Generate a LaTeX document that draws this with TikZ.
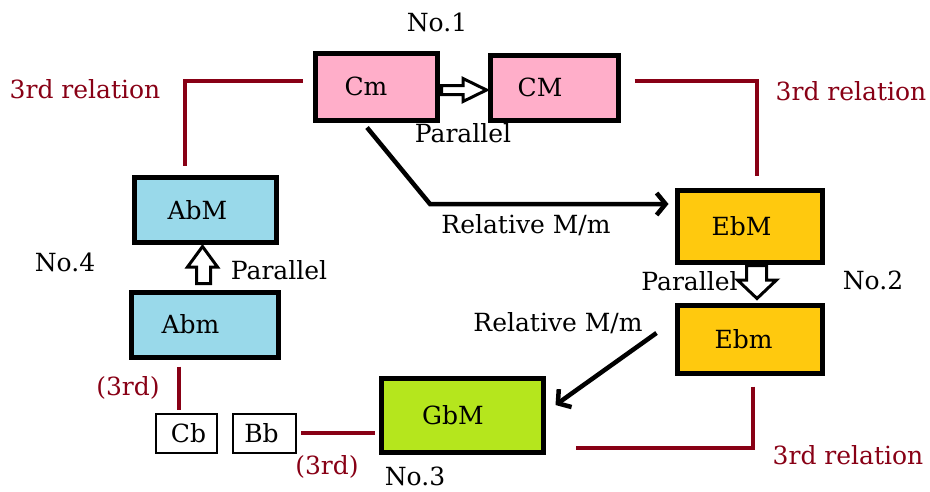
\documentclass[tikz,border=0pt]{standalone}
\usepackage{fontspec}
\setmainfont{DejaVu Serif}
\usetikzlibrary{arrows.meta}
\definecolor{pinkbox}{HTML}{FFAEC9}
\definecolor{bluebox}{HTML}{99D9EA}
\definecolor{goldbox}{HTML}{FFC90E}
\definecolor{limebox}{HTML}{B5E61D}
\definecolor{darkred}{HTML}{880015}
\begin{document}
\begin{tikzpicture}[x=1pt,y=-1pt,
  every node/.style={font=\fontsize{25}{29}\selectfont, inner sep=0pt},
  every label/.style={font=\fontsize{25}{29}\selectfont, inner sep=0pt},
  bigbox/.style={draw=black, line width=5pt, rectangle},
  smallbox/.style={draw=black, line width=2.5pt, rectangle, fill=white},
  rel/.style={draw=darkred, line width=4.5pt},
  relarrow/.style={draw=black, line width=4.5pt, -{Straight Barb[length=9pt,width=22pt]}},
  hollow/.style={draw=black, line width=3pt, fill=white, line join=miter},
  lbl/.style={text=black},
  redlbl/.style={text=darkred}]
\useasboundingbox (0,0) rectangle (930,491);

% boxes
\node[bigbox, fill=pinkbox, minimum width=122pt, minimum height=67pt, label={[xshift=-10pt]center:Cm}] (Cm) at (376,86.5) {};
\node[bigbox, fill=pinkbox, minimum width=128pt, minimum height=65pt, label={[xshift=-14pt]center:CM}] (CM) at (554,87.5) {};
\node[bigbox, fill=goldbox, minimum width=145pt, minimum height=72pt, label={[xshift=-8pt]center:EbM}] (EbM) at (749.5,226) {};
\node[bigbox, fill=goldbox, minimum width=145pt, minimum height=68pt, label={[xshift=-6pt]center:Ebm}] (Ebm) at (749.5,339) {};
\node[bigbox, fill=bluebox, minimum width=142pt, minimum height=65pt, label={[xshift=-8pt]center:AbM}] (AbM) at (205.5,210) {};
\node[bigbox, fill=bluebox, minimum width=147pt, minimum height=65pt, label={[xshift=-14pt]center:Abm}] (Abm) at (204.5,324.5) {};
\node[bigbox, fill=limebox, minimum width=162pt, minimum height=74pt, label={[xshift=-9pt]center:GbM}] (GbM) at (462,415) {};
\node[smallbox, minimum width=61pt, minimum height=39pt, label={[xshift=2pt]center:Cb}] (Cb) at (186.5,433.5) {};
\node[smallbox, minimum width=63pt, minimum height=39pt, label={[xshift=-3pt]center:Bb}] (Bb) at (264.5,433.5) {};

% labels
\node[lbl] (n1) at (437,22) {No.1};
\node[lbl] (n2) at (873,280) {No.2};
\node[lbl] (n3) at (415,476) {No.3};
\node[lbl] (n4) at (65,262) {No.4};
\node[redlbl] (r1) at (85,89) {3rd relation};
\node[redlbl] (r2) at (851,91) {3rd relation};
\node[redlbl] (r3) at (848,455) {3rd relation};
\node[redlbl] (t1) at (128,388) {(3rd)};
\node[redlbl] (t2) at (327,467) {(3rd)};
\node[lbl] (p1) at (463,133) {Parallel};
\node[lbl] (p2) at (279,270) {Parallel};
\node[lbl] (p3) at (689.5,281) {Parallel};
\node[lbl] (m1) at (526,225) {Relative M/m};
\node[lbl] (m2) at (558,323) {Relative M/m};

% 3rd relation connectors
\coordinate (a1) at ([xshift=-10pt,yshift=5.5pt]Cm.west);
\coordinate (a2) at ([xshift=-20.5pt,yshift=9.5pt]AbM.north);
\draw[rel] (a1) -| (a2);
\coordinate (b1) at ([xshift=14pt,yshift=6.5pt]CM.east);
\coordinate (b2) at ([xshift=7.5pt,yshift=12pt]EbM.north);
\draw[rel] (b1) -| (b2);
\coordinate (c1) at ([xshift=3.5pt,yshift=-11pt]Ebm.south);
\coordinate (c2) at ([xshift=30pt,yshift=-33pt]GbM.east);
\draw[rel] (c1) |- (c2);
\draw[rel] ([xshift=-25.5pt,yshift=-7pt]Abm.south) -- ([xshift=-7.5pt,yshift=3pt]Cb.north);
\draw[rel] ([xshift=4pt,yshift=0.5pt]Bb.east) -- ([xshift=-4pt,yshift=-18pt]GbM.west);

% relative arrows
\coordinate (k1) at ([xshift=-9pt,yshift=-5pt]Cm.south);
\coordinate (k2) at (430,204);
\draw[relarrow] (k1) -- (k2) -- ([xshift=-6pt,yshift=22pt]EbM.west);
\draw[relarrow] ([xshift=-18pt,yshift=6pt]Ebm.west) -- ([xshift=10pt,yshift=10pt]GbM.east);

% hollow block arrows
\draw[hollow] (441.5,85.5) -- (463,85.5) -- (463,78.5) -- (486.5,90) -- (463,101.5) -- (463,94.5) -- (441.5,94.5) -- cycle;
\draw[hollow] (196.5,283.5) -- (196.5,267) -- (187.5,267) -- (202.5,246.5) -- (217.5,267) -- (210.5,267) -- (210.5,283.5) -- cycle;
\draw[hollow] (746.5,265.5) -- (766.5,265.5) -- (766.5,280) -- (776.5,280) -- (757,298.5) -- (737.5,280) -- (746.5,280) -- cycle;
\end{tikzpicture}
\end{document}
